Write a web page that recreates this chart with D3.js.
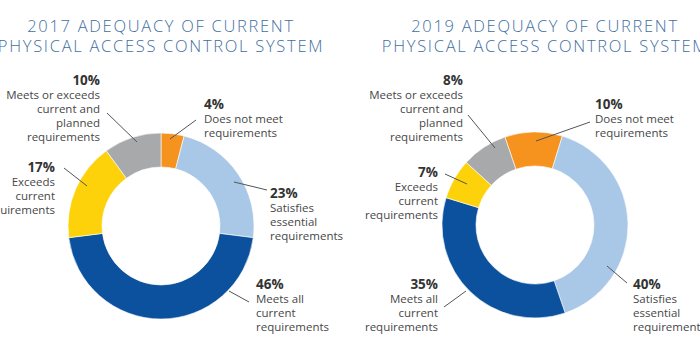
<!DOCTYPE html>
<html>
<head>
<meta charset="utf-8">
<script src="https://cdn.jsdelivr.net/npm/d3@7"></script>
<style>
	body { margin: 0; background: #fff; }
	svg text { font-family: "Open Sans", sans-serif; }
</style>
</head>
<body>
<div id="chart"></div>
<script>
// slices in clockwise order from the start angle
var categories = [
	["Does not meet", "requirements"],
	["Satisfies", "essential", "requirements"],
	["Meets all", "current", "requirements"],
	["Exceeds", "current", "requirements"],
	["Meets or exceeds", "current and", "planned", "requirements"]
];
var values2017 = [4, 23, 46, 17, 10];
var values2019 = [10, 40, 35, 7, 8];
var titles2017 = ["2017 ADEQUACY OF CURRENT", "PHYSICAL ACCESS CONTROL SYSTEM"];
var titles2019 = ["2019 ADEQUACY OF CURRENT", "PHYSICAL ACCESS CONTROL SYSTEM"];
var colours = ["#f6921e", "#a9c7e7", "#0b519e", "#fdd20a", "#a8a9ab"];

// label placement, relative to the donut centre
var layout2017 = [
	{ tx: 43, ty: -122, anchor: "start", l: [35, -106, 9, -87] },
	{ tx: 109, ty: -33, anchor: "start", l: [106, -36, 73, -44] },
	{ tx: 95, ty: 58, anchor: "start", l: [88, 76, 68, 65] },
	{ tx: -106, ty: -59, anchor: "end", l: [-97, -58, -74, -40] },
	{ tx: -61, ty: -146, anchor: "end", l: [-54, -113, -24, -84] }
];
var layout2019 = [
	{ tx: 60, ty: -121, anchor: "start", l: [55, -103, 1, -84] },
	{ tx: 98, ty: 59, anchor: "start", l: [92, 58, 72, 41] },
	{ tx: -97, ty: 59, anchor: "end", l: [-91, 82, -69, 66] },
	{ tx: -97, ty: -53, anchor: "end", l: [-90, -51, -68, -41] },
	{ tx: -72, ty: -145, anchor: "end", l: [-67, -110, -40, -77] }
];

function init() {
	var w = 700;
	var h = 350;

	var svg = d3.select("#chart")
		.append("svg")
		.attr("width", w)
		.attr("height", h);

	var outer = 93;
	var inner = 59;

	function donut(values, titles, layout, cx, cy, tx, start) {
		var g = svg.append("g");

		g.selectAll(".title")
			.data(titles)
			.join("text")
				.attr("x", tx)
				.attr("y", (d, i) => 32 + i * 20)
				.attr("text-anchor", "middle")
				.attr("fill", "#3f6f9f")
				.attr("font-size", 16.5)
				.attr("font-weight", 300)
				.attr("letter-spacing", 1.7)
				.text(d => d);

		var pie = d3.pie()
			.sort(null)
			.startAngle(start)
			.endAngle(start + 2 * Math.PI);

		var arc = d3.arc()
			.innerRadius(inner)
			.outerRadius(outer);

		var slices = pie(values);

		var ring = g.append("g")
			.attr("transform", `translate(${cx},${cy})`);

		ring.selectAll("path")
			.data(slices)
			.join("path")
				.attr("d", arc)
				.attr("fill", (d, i) => colours[i])
				.attr("stroke", "#fff")
				.attr("stroke-width", 0.6);

		ring.selectAll("line")
			.data(slices)
			.join("line")
				.attr("x1", (d, i) => layout[i].l[0])
				.attr("y1", (d, i) => layout[i].l[1])
				.attr("x2", (d, i) => layout[i].l[2])
				.attr("y2", (d, i) => layout[i].l[3])
				.attr("stroke", "#555")
				.attr("stroke-width", 1);

		var labels = ring.selectAll(".label")
			.data(slices)
			.join("text")
				.attr("class", "label")
				.attr("text-anchor", (d, i) => layout[i].anchor)
				.attr("transform", (d, i) => `translate(${layout[i].tx},${layout[i].ty})`);

		labels.append("tspan")
			.attr("x", 0)
			.attr("y", 4.5)
			.attr("font-size", 13.5)
			.attr("font-weight", "bold")
			.attr("fill", "#333")
			.text(d => d.data + "%");

		labels.each(function(d, i) {
			d3.select(this).selectAll(".line")
				.data(categories[i])
				.join("tspan")
					.attr("class", "line")
					.attr("x", 0)
					.attr("y", (t, j) => 19 + j * 14)
					.attr("font-size", 11.5)
					.attr("fill", "#474747")
					.text(t => t);
		});
	}

	donut(values2017, titles2017, layout2017, 161, 226, 161, 0);
	donut(values2019, titles2019, layout2019, 535, 225, 545, -0.33);
}

window.onload = init;
</script>
</body>
</html>
